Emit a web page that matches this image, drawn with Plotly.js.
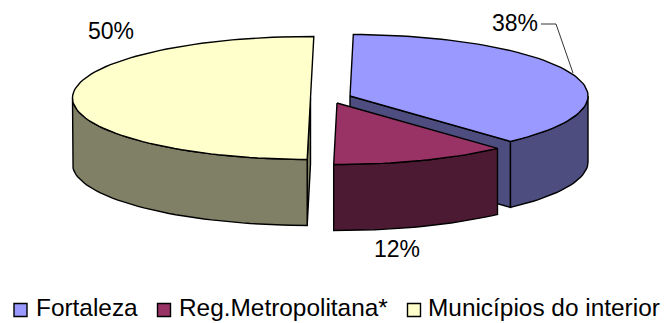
<!DOCTYPE html>
<html>
<head>
<meta charset="utf-8">
<script src="https://cdn.plot.ly/plotly-3.0.1.min.js"></script>
<style>html,body{margin:0;padding:0;background:#fff}#chart{width:664px;height:323px}</style>
</head>
<body>
<div id="chart"></div>
<script>
// Population share by region
const categories = ['Fortaleza', 'Reg.Metropolitana*', 'Municípios do interior'];
const shares = [38, 12, 50];

const topColors = ['#9999FF', '#993366', '#FFFFCC'];
const wallColors = ['#4D4D80', '#4D1A33', '#808066'];
// Exploded slice centres, in plot pixels
const centres = [[350, 96], [337, 103], [310.5, 98]];
const labelSpots = [[515, 25.5], [397, 251], [111, 33]];
const keySpots = [[20.5, 310], [164, 310], [414, 310]];
const keyTextSpots = [[36, 310], [179, 310], [428, 310]];
const leader = {x: [541, 556, 573], y: [24, 24, 73]};

const rx = 238, ry = 61.5, depth = 66, startDeg = 0.8;
const rad = d => d * Math.PI / 180;
const onRim = (c, deg) => [c[0] + rx * Math.sin(rad(deg)), c[1] - ry * Math.cos(rad(deg))];
function arc(c, a, b) {
  const pts = [], n = Math.max(2, Math.ceil(Math.abs(b - a) / 2));
  for (let i = 0; i <= n; i++) pts.push(onRim(c, a + (b - a) * i / n));
  return pts;
}
function poly(pts, fill) {
  return {
    type: 'scatter', mode: 'lines', x: pts.map(p => p[0]).concat(pts[0][0]),
    y: pts.map(p => p[1]).concat(pts[0][1]), fill: 'toself', fillcolor: fill,
    line: {color: '#000', width: 1.4}, hoverinfo: 'skip', showlegend: false
  };
}
const drop = pts => pts.map(p => [p[0], p[1] + depth]);

// Angular extent of each slice, clockwise from twelve o'clock
let acc = startDeg;
const spans = shares.map(s => { const a = acc; acc += s * 3.6; return [a, acc]; });

// cutAngle: the flat cut face that turns toward the viewer, if any
function wallsAndTop(i, cutAngle) {
  const c = centres[i], [a, b] = spans[i], out = [];
  if (cutAngle !== null) {
    const r = onRim(c, cutAngle);
    out.push(poly([c, r, [r[0], r[1] + depth], [c[0], c[1] + depth]], wallColors[i]));
  }
  // curved outer wall: only the part of the rim facing the viewer
  const fa = Math.max(a, 90), fb = Math.min(b, 270);
  if (fb > fa) {
    const rim = arc(c, fa, fb);
    out.push(poly(rim.concat(drop(rim).reverse()), wallColors[i]));
  }
  out.push(poly([c].concat(arc(c, a, b)), topColors[i]));
  return out;
}

// Back to front: interior, then Fortaleza, then the metropolitan slice
const traces = [].concat(
  wallsAndTop(2, spans[2][0]),
  wallsAndTop(0, spans[0][1]),
  wallsAndTop(1, null)
);

traces.push({
  type: 'scatter', mode: 'lines', x: leader.x, y: leader.y,
  line: {color: '#000', width: 0.8}, hoverinfo: 'skip', showlegend: false
});
traces.push({
  type: 'scatter', mode: 'text', x: labelSpots.map(p => p[0]), y: labelSpots.map(p => p[1]),
  text: shares.map(v => v + '%'), textposition: 'middle center',
  textfont: {family: 'Liberation Sans, Arial, sans-serif', size: 23, color: '#000'},
  hoverinfo: 'skip', showlegend: false
});
// Legend row: keys and their names
traces.push({
  type: 'scatter', mode: 'markers', x: keySpots.map(p => p[0]), y: keySpots.map(p => p[1]),
  marker: {symbol: 'square', size: 13, color: topColors, line: {color: '#000', width: 1.4}},
  hoverinfo: 'skip', showlegend: false
});
traces.push({
  type: 'scatter', mode: 'text', x: keyTextSpots.map(p => p[0]), y: keyTextSpots.map(p => p[1]),
  text: categories, textposition: 'middle right',
  textfont: {family: 'Liberation Sans, Arial, sans-serif', size: 24.4, color: '#000'},
  hoverinfo: 'skip', showlegend: false, cliponaxis: false
});

const hidden = {visible: false, fixedrange: true};
Plotly.newPlot('chart', traces, {
  width: 664, height: 323, margin: {l: 0, r: 0, t: 0, b: 0},
  paper_bgcolor: '#fff', plot_bgcolor: '#fff', showlegend: false,
  xaxis: Object.assign({range: [0, 664]}, hidden),
  yaxis: Object.assign({range: [323, 0]}, hidden)
}, {staticPlot: true, displayModeBar: false});
</script>
</body>
</html>
